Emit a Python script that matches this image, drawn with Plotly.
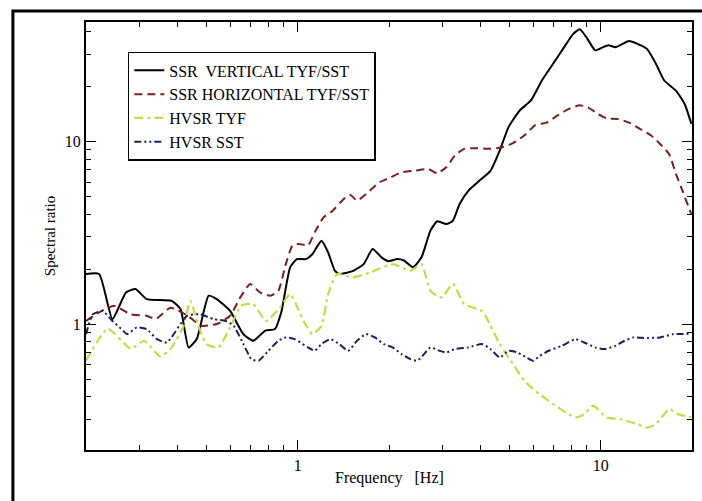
import plotly.graph_objects as go

# ---- data ----
ssr_v_f = [0.2, 0.221, 0.2445, 0.271, 0.2915, 0.317, 0.3835, 0.41, 0.436, 0.464, 0.508, 0.54, 0.598,
           0.6615, 0.713, 0.781, 0.841, 0.882, 0.944, 0.993, 1.063, 1.118, 1.197, 1.259, 1.325, 1.37,
           1.517, 1.65, 1.766, 1.889, 1.99, 2.13, 2.24, 2.40, 2.56, 2.74, 2.885, 3.09, 3.25, 3.42,
           3.66, 3.98, 4.33, 4.64, 4.96, 5.40, 5.88, 6.39, 6.96, 7.57, 8.11, 8.53, 8.97, 9.59, 10.1,
           10.6, 11.19, 11.8, 12.4, 13.2, 14.2, 15.2, 16.2, 17.7, 18.9, 19.9]
ssr_v = [1.88, 1.88, 1.065, 1.49, 1.556, 1.37, 1.34, 1.21, 0.745, 0.827, 1.43, 1.37, 1.18,
         0.88, 0.81, 0.92, 0.94, 1.16, 2.05, 2.27, 2.27, 2.42, 2.86, 2.47, 1.96, 1.88,
         1.95, 2.13, 2.58, 2.32, 2.21, 2.27, 2.23, 2.05, 2.32, 3.25, 3.66, 3.53, 3.68, 4.55,
         5.39, 6.11, 6.93, 8.93, 12.0, 14.8, 16.8, 21.6, 26.7, 32.9, 38.9, 41.2, 37.2, 31.6, 32.7,
         33.7, 32.9, 34.3, 35.5, 34.3, 32.2, 26.7, 21.6, 19.0, 16.1, 12.5]

ssr_h_f = [0.2, 0.221, 0.248, 0.281, 0.317, 0.34, 0.38, 0.433, 0.481, 0.54, 0.598, 0.646, 0.696,
           0.75, 0.811, 0.862, 0.913, 0.96, 1.01, 1.08, 1.137, 1.217, 1.302, 1.418, 1.49, 1.569,
           1.679, 1.86, 2.02, 2.20, 2.44, 2.70, 2.885, 3.09, 3.30, 3.54, 3.91, 4.33, 4.72, 5.13,
           5.59, 6.08, 6.62, 7.2, 7.84, 8.53, 9.13, 9.77, 10.45, 11.4, 12.4, 13.5, 14.66, 15.7,
           16.8, 17.7, 18.6, 19.5, 19.9]
ssr_h = [1.04, 1.16, 1.26, 1.13, 1.11, 1.065, 1.23, 1.11, 0.979, 1.0, 1.11, 1.40, 1.66,
         1.49, 1.43, 1.52, 2.13, 2.69, 2.75, 2.69, 3.18, 3.85, 4.17, 4.85, 5.1, 4.75,
         5.16, 5.98, 6.36, 6.78, 6.93, 7.07, 6.70, 7.23, 8.39, 9.12, 9.19, 9.12, 9.31, 9.8,
         10.8, 12.3, 12.7, 13.9, 15.1, 15.8, 15.3, 14.2, 13.4, 13.3, 12.7, 11.7, 10.8, 9.7,
         8.55, 6.65, 5.38, 4.36, 4.0]

hvsr_tyf_f = [0.2, 0.236, 0.281, 0.311, 0.352, 0.3835, 0.42, 0.442, 0.472, 0.4995, 0.547, 0.598,
              0.65, 0.713, 0.786, 0.873, 0.944, 1.045, 1.118, 1.197, 1.259, 1.347, 1.517, 1.737,
              2.057, 2.355, 2.56, 2.74, 2.985, 3.25, 3.54, 4.05, 4.19, 4.64, 5.13, 5.59, 6.08,
              6.96, 8.24, 8.82, 9.44, 10.45, 11.57, 13.2, 14.2, 15.2, 16.8, 17.96, 19.9]
hvsr_tyf = [0.63, 0.943, 0.732, 0.81, 0.662, 0.745, 0.979, 1.34, 0.959, 0.777, 0.745, 0.959,
            1.26, 1.287, 1.04, 1.23, 1.46, 1.04, 0.88, 0.979, 1.46, 1.88, 1.80, 1.92,
            2.13, 1.96, 2.13, 1.52, 1.40, 1.66, 1.29, 1.18, 1.088, 0.777, 0.604, 0.489, 0.431,
            0.364, 0.308, 0.321, 0.357, 0.308, 0.301, 0.283, 0.271, 0.283, 0.342, 0.321, 0.308]

hvsr_sst_f = [0.2, 0.2105, 0.227, 0.2445, 0.261, 0.2735, 0.2945, 0.317, 0.343, 0.37, 0.4305, 0.476,
              0.527, 0.578, 0.614, 0.6615, 0.703, 0.742, 0.80, 0.862, 0.913, 0.977, 1.08, 1.137,
              1.197, 1.28, 1.37, 1.466, 1.569, 1.679, 1.796, 1.922, 2.057, 2.20, 2.355, 2.48, 2.61,
              2.74, 2.935, 3.09, 3.30, 3.66, 4.05, 4.33, 4.64, 4.96, 5.31, 5.68, 5.98, 6.29, 6.73,
              7.45, 8.24, 8.82, 9.59, 10.27, 11.19, 11.97, 12.8, 14.2, 15.7, 17.37, 19.9]
hvsr_sst = [0.88, 1.13, 1.18, 1.04, 0.943, 0.881, 0.959, 0.939, 0.827, 0.793, 1.11, 1.13,
            1.065, 1.04, 0.979, 0.777, 0.642, 0.629, 0.714, 0.81, 0.845, 0.827, 0.745, 0.714,
            0.777, 0.827, 0.777, 0.714, 0.81, 0.881, 0.845, 0.777, 0.745, 0.684, 0.642, 0.629, 0.684,
            0.745, 0.714, 0.699, 0.729, 0.745, 0.777, 0.729, 0.656, 0.714, 0.699, 0.656, 0.629, 0.67, 0.714,
            0.761, 0.827, 0.793, 0.745, 0.729, 0.761, 0.81, 0.845, 0.838, 0.845, 0.881, 0.881]

x_minor = [0.2, 0.3, 0.4, 0.5, 0.6, 0.7, 0.8, 0.9, 1, 2, 3, 4, 5, 6, 7, 8, 9, 10, 20]
y_minor = [0.2, 0.3, 0.4, 0.5, 0.6, 0.7, 0.8, 0.9, 1, 2, 3, 4, 5, 6, 7, 8, 9, 10, 20, 30, 40]
major_vals = [1, 10]
major_text = ["1", "10"]

names = ["SSR  VERTICAL TYF/SST", "SSR HORIZONTAL TYF/SST", "HVSR TYF", "HVSR SST"]

FONT = "Liberation Serif, Times New Roman, serif"
x_range = [-0.699, 1.301]
y_range = [-0.69, 1.655]

fig = go.Figure()
series = [
    (ssr_v_f, ssr_v, "#000000", "solid", 2.0),
    (ssr_h_f, ssr_h, "#7a1f1f", "8px,5px", 2.0),
    (hvsr_tyf_f, hvsr_tyf, "#c6da48", "9px,4px,3px,4px", 2.2),
    (hvsr_sst_f, hvsr_sst, "#1b1f5e", "7px,3px,2px,3px,2px,3px", 2.0),
]
for (xs, ys, col, dash, w), nm in zip(series, names):
    fig.add_trace(go.Scatter(x=xs, y=ys, mode="lines", name=nm,
                             line=dict(color=col, dash=dash, width=w, shape="spline", smoothing=0.5)))

def ticktext(vals):
    return [major_text[major_vals.index(v)] if v in major_vals else "" for v in vals]

axis_common = dict(type="log", showgrid=False, zeroline=False, showline=True, linecolor="black",
                   linewidth=2, mirror="ticks", ticks="inside", ticklen=5, tickwidth=1.2,
                   tickcolor="black", tickfont=dict(family=FONT, size=16, color="black"))

fig.update_layout(
    width=702, height=501,
    margin=dict(l=86, r=8, t=22, b=51),
    paper_bgcolor="white", plot_bgcolor="white",
    xaxis=dict(range=x_range, tickmode="array", tickvals=x_minor, ticktext=ticktext(x_minor), **axis_common),
    yaxis=dict(range=y_range, tickmode="array", tickvals=y_minor, ticktext=ticktext(y_minor), **axis_common),
    xaxis2=dict(type="log", overlaying="x", anchor="y", range=x_range, tickmode="array",
                tickvals=major_vals, showticklabels=False, ticks="inside", ticklen=10, tickwidth=1.2,
                tickcolor="black", mirror="ticks", showline=True, linecolor="black", linewidth=2,
                showgrid=False, zeroline=False),
    yaxis2=dict(type="log", overlaying="y", anchor="x", range=y_range, tickmode="array",
                tickvals=major_vals, showticklabels=False, ticks="inside", ticklen=10, tickwidth=1.2,
                tickcolor="black", mirror="ticks", showline=True, linecolor="black", linewidth=2,
                showgrid=False, zeroline=False),
    showlegend=True,
    legend=dict(x=0.069, y=0.93, xanchor="left", yanchor="top", bgcolor="white",
                bordercolor="black", borderwidth=1.5, tracegroupgap=0,
                font=dict(family=FONT, size=16, color="black")),
    annotations=[
        dict(text="Spectral ratio", xref="paper", yref="paper", x=-0.0757, y=0.5, showarrow=False,
             textangle=-90, font=dict(family=FONT, size=15, color="black")),
        dict(text="Frequency   [Hz]", xref="paper", yref="paper", x=0.5, y=-0.09, showarrow=False,
             font=dict(family=FONT, size=16, color="black")),
    ],
    shapes=[dict(type="rect", xref="paper", yref="paper", x0=-0.1206, x1=1.2, y0=-0.3, y1=1.0257,
                 line=dict(color="black", width=3), layer="below")],
)
# an invisible trace on the overlay axes so they render
fig.add_trace(go.Scatter(x=[1], y=[1], xaxis="x2", yaxis="y2", mode="markers",
                         marker=dict(opacity=0), showlegend=False, hoverinfo="skip"))

fig.write_html("out.html")
